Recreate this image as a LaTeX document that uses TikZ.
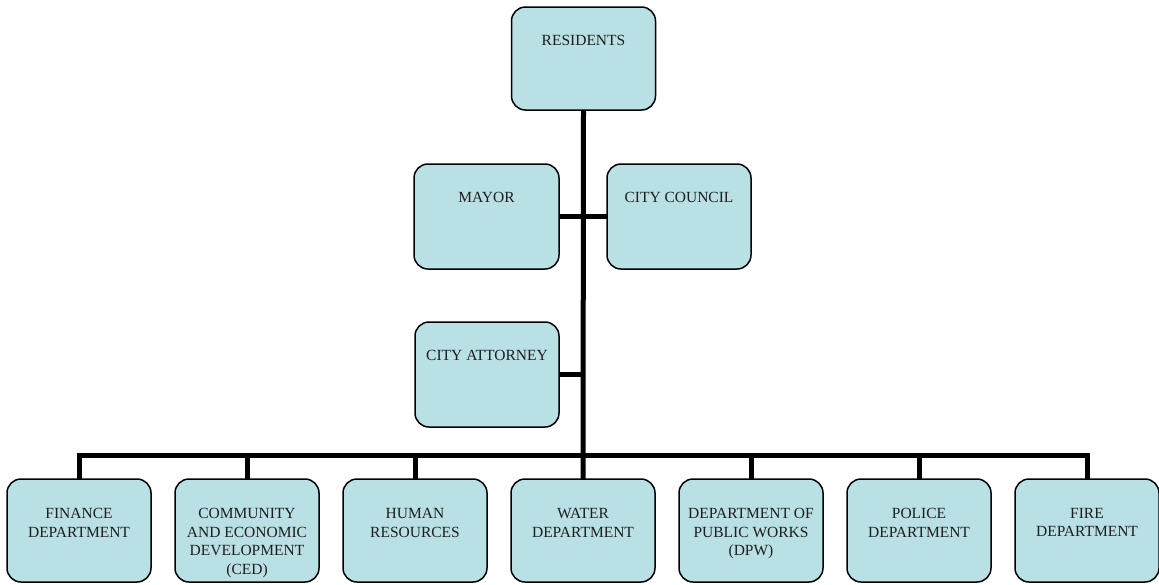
\documentclass[tikz,border=0pt]{standalone}
\usepackage{fontspec}
\setmainfont{Liberation Serif}
\definecolor{boxfill}{RGB}{185,224,228}
\definecolor{boxtext}{RGB}{30,30,30}
\newcommand{\boxfont}{\fontsize{15.5}{18.6}\selectfont}
\tikzset{
  orgbox/.style={draw=black, line width=1.5pt, fill=boxfill, rounded corners=14pt,
    minimum width=144pt, minimum height=103pt, inner sep=0pt, outer sep=0pt},
  boxlabel/.style={anchor=north, align=center, inner sep=0pt, font=\boxfont, text=boxtext},
  conn/.style={line width=5pt, draw=black}
}
\begin{document}
\begin{tikzpicture}[x=1pt,y=-1pt]
\useasboundingbox (0,0) rectangle (1159,584);
% boxes
\node[orgbox] (res) at (583.5,58.5) {};
\node[orgbox, minimum width=145pt, minimum height=105pt] (mayor) at (486.5,216.5) {};
\node[orgbox, minimum height=105pt] (council) at (679,216.5) {};
\node[orgbox, minimum height=105pt] (att) at (487,374.5) {};
\node[orgbox] (fin) at (79,530.5) {};
\node[orgbox] (ced) at (247,530.5) {};
\node[orgbox] (hr) at (415,530.5) {};
\node[orgbox] (water) at (583,530.5) {};
\node[orgbox] (dpw) at (751,530.5) {};
\node[orgbox] (pol) at (919,530.5) {};
\node[orgbox] (fire) at (1087,530.5) {};
% texts
\node[boxlabel] (res-t) at ([yshift=-28pt]res.north) {RESIDENTS};
\node[boxlabel] (mayor-t) at ([yshift=-28pt]mayor.north) {MAYOR};
\node[boxlabel] (council-t) at ([yshift=-28pt]council.north) {CITY COUNCIL};
\node[boxlabel] (att-t) at ([yshift=-28pt]att.north) {CITY ATTORNEY};
\node[boxlabel] (fin-t) at ([yshift=-29pt]fin.north) {FINANCE\\DEPARTMENT};
\node[boxlabel] (ced-t) at ([yshift=-29pt]ced.north) {COMMUNITY\\AND ECONOMIC\\DEVELOPMENT\\(CED)};
\node[boxlabel] (hr-t) at ([yshift=-29pt]hr.north) {HUMAN\\RESOURCES};
\node[boxlabel] (water-t) at ([yshift=-29pt]water.north) {WATER\\DEPARTMENT};
\node[boxlabel] (dpw-t) at ([yshift=-29pt]dpw.north) {DEPARTMENT OF\\PUBLIC WORKS\\(DPW)};
\node[boxlabel] (pol-t) at ([yshift=-29pt]pol.north) {POLICE\\DEPARTMENT};
\node[boxlabel] (fire-t) at ([yshift=-29pt]fire.north) {FIRE\\DEPARTMENT};
% connector points
\coordinate (bus) at (583,455);
\coordinate (attj) at (583,374.5);
% connectors
\draw[conn] (res.south) -- (water.north);
\draw[conn] (mayor.east) -- (council.west);
\draw[conn] (att.east) -- (attj);
\draw[conn] (fin.north) |- (bus) -| (fire.north);
\draw[conn] (ced.north) -- (ced.north |- bus);
\draw[conn] (hr.north) -- (hr.north |- bus);
\draw[conn] (dpw.north) -- (dpw.north |- bus);
\draw[conn] (pol.north) -- (pol.north |- bus);
\end{tikzpicture}
\end{document}
